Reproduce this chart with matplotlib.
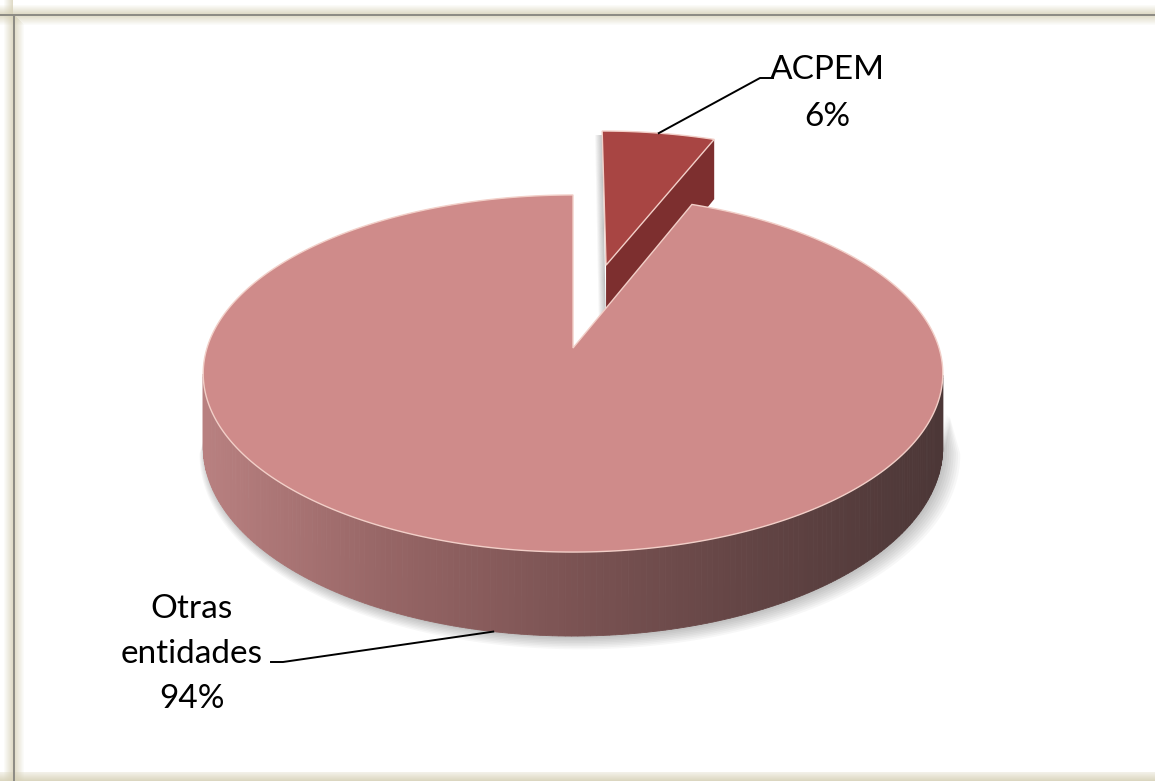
import numpy as np
import matplotlib
matplotlib.use("Agg")
import matplotlib.pyplot as plt
from matplotlib.patches import Polygon, Rectangle

# ---- data ----
labels = ["ACPEM", "Otras\nentidades"]
values = [6, 94]
explode = [0.517, 0.0]

# ---- layout ----
W, Hpx = 1155, 781
cx, cy = 573.0, 348.0
Rx, Ry, k = 366.0, 174.9, 0.1429
Hside = 72.0

top_color = ["#A84543", "#CF8B8A"]
radial_color = ["#7D2F2F", "#9A5A5A"]
rim_color = "#F2CFC8"

fig = plt.figure(figsize=(W / 100, Hpx / 100), dpi=100)
ax = fig.add_axes([0, 0, 1, 1])
ax.set_xlim(0, W)
ax.set_ylim(Hpx, 0)
ax.axis("off")

# ---- frame ----
def band(x0, y0, w, h, c, a, z=0):
    ax.add_patch(Rectangle((x0, y0), w, h, facecolor=c, edgecolor="none", alpha=a, zorder=z))

beige = "#D6D0B6"
for i in range(9):
    a = 0.75 * (1 - i / 9)
    band(0, 13 - i, W, 1, beige, a)
    band(12 - i, 0, 1, Hpx, beige, a)
    band(0, 16 + i, W, 1, beige, a * 0.9)
    band(15 + i, 16 + i, 1, Hpx, beige, a * 0.9)
for i in range(9):
    band(0, 772 + i, W, 1, beige, 0.3 + 0.07 * i)
band(0, 14, W, 2, "#8E8C85", 1, 1)
band(13, 14, 2, Hpx, "#8E8C85", 1, 1)

# ---- projection ----
def proj(u, v, z=0.0):
    d = 1.0 / (1.0 + k * v)
    return cx + Rx * u * d, cy - Ry * v * d + Hside * z * d

fr = np.array(values, dtype=float) / sum(values)
starts = 90 - 360 * np.concatenate([[0], np.cumsum(fr)[:-1]])
ends = starts - 360 * fr

def offset(i):
    mid = np.radians((starts[i] + ends[i]) / 2)
    return explode[i] * np.cos(mid), explode[i] * np.sin(mid)

# soft shadow below the front wall
thv = np.linspace(np.radians(188.2), np.radians(351.8), 300)
for s in range(8):
    top = [proj(np.cos(t), np.sin(t), 0.5) for t in thv]
    bot = [proj(np.cos(t) * (1 + 0.004 * s), np.sin(t) * (1 + 0.004 * s), 1.0) for t in thv[::-1]]
    pts = [(x + 2 + s * 0.7, y + 2 + s * 0.6) for x, y in top + bot]
    ax.add_patch(Polygon(pts, closed=True, facecolor="#000000", alpha=0.03, edgecolor="none", zorder=2))

def side_gradient(t):
    stops = np.array([0.0, 0.25, 0.5, 0.75, 1.0])
    cols = np.array([[184, 128, 128], [150, 101, 101], [123, 83, 83], [98, 68, 68], [76, 55, 55]]) / 255.0
    return [np.interp(t, stops, cols[:, j]) for j in range(3)]

def draw_slice(i, z0):
    ox, oy = offset(i)
    a0, a1 = np.radians(starts[i]), np.radians(ends[i])
    th = np.linspace(a0, a1, 400)
    # outer wall, visible part (front)
    vis = th[(np.sin(th) < -k + 0.0001)]
    if len(vis) > 1:
        vis = np.sort(vis)
        for j in range(len(vis) - 1):
            t0, t1 = vis[j], vis[j + 1]
            p = [proj(ox + np.cos(t0), oy + np.sin(t0)), proj(ox + np.cos(t1), oy + np.sin(t1)),
                 proj(ox + np.cos(t1), oy + np.sin(t1), 1), proj(ox + np.cos(t0), oy + np.sin(t0), 1)]
            xm = (p[0][0] + p[1][0]) / 2
            col = side_gradient((xm - (cx - Rx)) / (2 * Rx))
            ax.add_patch(Polygon(p, closed=True, facecolor=col, edgecolor=col, linewidth=0.6, zorder=z0))
    # shadow sliver at the exploded slice's left face
    if ox > 0:
        p1 = proj(ox + np.cos(a0), oy + np.sin(a0))
        q0 = proj(ox, oy, 1)
        for s in range(7):
            sh = [(p1[0] - s - 1, p1[1] + 4), (p1[0] - s, p1[1] + 4), (q0[0] - s, q0[1]), (q0[0] - s - 1, q0[1])]
            ax.add_patch(Polygon(sh, closed=True, facecolor="#777777", alpha=0.45 * (1 - s / 7),
                                 edgecolor="none", zorder=z0 + 0.5))
    # radial face at end angle (visible when facing the viewer)
    nvec = (np.sin(a1), -np.cos(a1))
    if nvec[1] < 0:
        p = [proj(ox, oy), proj(ox + np.cos(a1), oy + np.sin(a1)),
             proj(ox + np.cos(a1), oy + np.sin(a1), 1), proj(ox, oy, 1)]
        ax.add_patch(Polygon(p, closed=True, facecolor=radial_color[i], edgecolor="none", zorder=z0))
    # top face
    pts = [proj(ox, oy)] + [proj(ox + np.cos(t), oy + np.sin(t)) for t in th]
    ax.add_patch(Polygon(pts, closed=True, facecolor=top_color[i], edgecolor=rim_color,
                         linewidth=1.0, zorder=z0 + 1))

draw_slice(0, 3)
draw_slice(1, 6)

# ---- labels ----
font = dict(family="Lato", fontsize=24, color="black")

def put_label(xc, y_first, lines, gap):
    for n, line in enumerate(lines):
        ax.text(xc, y_first + n * gap, line, ha="center", va="baseline", zorder=10, **font)

ox, oy = offset(0)
mid0 = np.radians((starts[0] + ends[0]) / 2)
a0pt = proj(ox + np.cos(mid0), oy + np.sin(mid0))
put_label(827, 79, [labels[0], f"{values[0]}%"], 47)
ax.plot([a0pt[0], 760, 773], [a0pt[1], 78, 78], color="black", lw=1.4, zorder=10)

mid1 = np.radians((starts[1] + ends[1]) / 2)
a1pt = proj(np.cos(mid1), np.sin(mid1), 1)
put_label(192, 618, labels[1].split("\n") + [f"{values[1]}%"], 45)
ax.plot([271, 283, a1pt[0]], [662, 662, a1pt[1]], color="black", lw=1.4, zorder=10)

fig.savefig("out.png", dpi=100)
